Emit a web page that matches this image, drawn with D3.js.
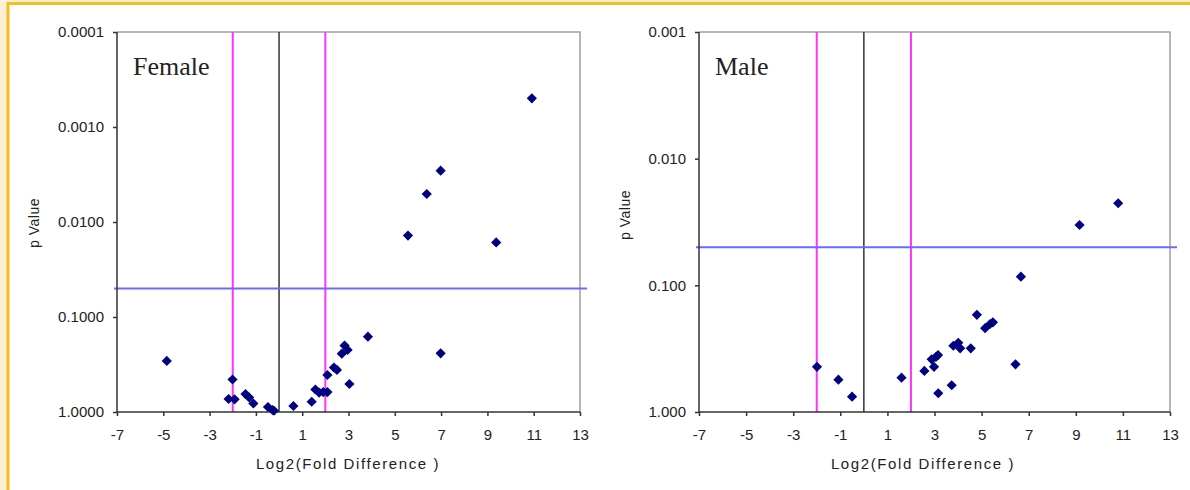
<!DOCTYPE html>
<html>
<head>
<meta charset="utf-8">
<script src="https://cdn.jsdelivr.net/npm/d3@7"></script>
<style>
    body { margin: 0; background: #ffffff; }
    svg { display: block; }
</style>
</head>
<body>
<svg id="chart" width="1190" height="490"></svg>
<script>
// fold differences (log2) and p values
const femaleFold = [-4.85, -2.01, -2.18, -1.92, -1.45, -1.29, -1.11, -0.48, -0.28, -0.22,
    0.62, 1.41, 1.57, 1.73, 1.91, 2.09, 2.09, 2.37, 2.50, 2.71,
    2.83, 2.96, 3.04, 3.84, 5.57, 6.38, 6.98, 6.98, 9.38, 10.92];
const femaleP = [0.29, 0.455, 0.73, 0.735, 0.647, 0.704, 0.814, 0.886, 0.953, 0.97,
    0.865, 0.78, 0.58, 0.624, 0.617, 0.617, 0.408, 0.34, 0.361, 0.243,
    0.20, 0.222, 0.507, 0.161, 0.0139, 0.00507, 0.00288, 0.241, 0.0164, 0.000499];

const maleFold = [-1.99, -1.08, -0.50, 1.60, 2.57, 2.88, 3.06, 2.98, 3.15, 3.16,
    3.73, 3.80, 4.01, 4.09, 4.54, 4.80, 5.15, 5.36, 5.48, 6.44,
    6.67, 9.16, 10.80];
const maleP = [0.44, 0.556, 0.757, 0.536, 0.474, 0.384, 0.368, 0.44, 0.355, 0.711,
    0.615, 0.30, 0.284, 0.314, 0.314, 0.171, 0.218, 0.202, 0.196, 0.42,
    0.0855, 0.0334, 0.0225];

const xTicks = [-7, -5, -3, -1, 1, 3, 5, 7, 9, 11, 13];
const femaleYTicks = [0.0001, 0.001, 0.01, 0.1, 1];
const maleYTicks = [0.001, 0.01, 0.1, 1];

const pCutoff = 0.05;       // blue line
const foldCutoffs = [-2, 2]; // magenta lines

const SANS = "Arial, 'Liberation Sans', sans-serif";

/**
 * One volcano panel drawn into its own group
 * @param cfg position, domain and labels of the panel
 */
var VolcanoPlot = function(cfg){
    this.cfg = cfg;
    this.g;

    this.draw = function(svg){
        let c = this.cfg;
        let x = d3.scaleLinear().domain([-7, 13]).range([c.left, c.right]);
        let y = d3.scaleLog().domain([c.yTicks[0], 1]).range([c.top, c.bottom]);

        this.g = svg.append("g");

        // top and right frame (grey)
        this.g.append("path")
            .attr("d", `M${c.left},${c.top}H${c.right}V${c.bottom}`)
            .style("fill", "none")
            .style("stroke", "#a0a0a0")
            .style("stroke-width", 1.5);

        // reference lines
        foldCutoffs.forEach(f => {
            this.g.append("line")
                .attr("x1", x(f)).attr("x2", x(f))
                .attr("y1", c.top).attr("y2", c.bottom)
                .style("stroke", "#ff33ff")
                .style("stroke-width", 2);
        });
        this.g.append("line")
            .attr("x1", x(0)).attr("x2", x(0))
            .attr("y1", c.top).attr("y2", c.bottom)
            .style("stroke", "#333")
            .style("stroke-width", 1.5);
        this.g.append("line")
            .attr("x1", c.left - 3).attr("x2", c.right + 7)
            .attr("y1", y(pCutoff)).attr("y2", y(pCutoff))
            .style("stroke", "#6a6aff")
            .style("stroke-width", 2);

        // axes (plain hyphen for negatives, like the original)
        let xAxis = d3.axisBottom(x).tickValues(xTicks).tickSize(4).tickPadding(13)
            .tickFormat(d => String(d));
        let yAxis = d3.axisLeft(y).tickValues(c.yTicks).tickSize(4).tickPadding(9)
            .tickFormat(d3.format(c.fmt));

        let gx = this.g.append("g")
            .attr("transform", `translate(0,${c.bottom})`)
            .call(xAxis);
        let gy = this.g.append("g")
            .attr("transform", `translate(${c.left},0)`)
            .call(yAxis);

        [gx, gy].forEach(a => {
            a.select(".domain").style("stroke", "#333").style("stroke-width", 1.5);
            a.selectAll(".tick line").style("stroke", "#333").style("stroke-width", 1.5);
            a.selectAll("text")
                .style("font-family", SANS)
                .style("font-size", "15px")
                .style("fill", "#222");
        });
        gx.select(".domain").attr("d", `M${c.left},0H${c.right}`);
        gy.select(".domain").attr("d", `M0,${c.top}V${c.bottom}`);

        // axis titles
        this.g.append("text")
            .attr("x", c.xTitleX)
            .attr("y", 469)
            .style("text-anchor", "middle")
            .style("font-family", SANS)
            .style("font-size", "15px")
            .style("letter-spacing", "1.6px")
            .style("fill", "#222")
            .text("Log2(Fold Difference )");

        this.g.append("text")
            .attr("transform", `translate(${c.yTitleX},${c.yTitleY}) rotate(-90)`)
            .style("text-anchor", "middle")
            .style("dominant-baseline", "central")
            .style("font-family", SANS)
            .style("font-size", "14px")
            .style("letter-spacing", "0.5px")
            .style("fill", "#222")
            .text("p Value");

        // panel title
        this.g.append("text")
            .attr("x", c.left + 16)
            .attr("y", 75)
            .style("font-family", "'Liberation Serif', 'Times New Roman', serif")
            .style("font-size", "26px")
            .style("fill", "#222")
            .text(c.title);

        // diamonds
        let pts = c.fold.map((f, i) => ({fold: f, p: c.p[i]}));
        let diamond = d3.symbol().type(d3.symbolSquare).size(52);
        this.g.selectAll("path.point")
            .data(pts)
            .enter()
            .append("path")
            .attr("class", "point")
            .attr("d", diamond)
            .attr("transform", d => `translate(${x(d.fold)},${y(d.p)}) rotate(45)`)
            .style("fill", "#000080");
    };
};

let svg = d3.select("#chart");

// page frame: cream strip on the left, yellow rule top and left
svg.append("rect").attr("x", 0).attr("y", 0).attr("width", 8).attr("height", 490)
    .style("fill", "#fcefd4");
svg.append("rect").attr("x", 0).attr("y", 0).attr("width", 1190).attr("height", 2)
    .style("fill", "#fcefd4");
svg.append("line").attr("x1", 8).attr("x2", 1190).attr("y1", 3.5).attr("y2", 3.5)
    .style("stroke", "#f4be1c").style("stroke-width", 3);
svg.append("line").attr("x1", 8).attr("x2", 8).attr("y1", 2).attr("y2", 490)
    .style("stroke", "#f4be1c").style("stroke-width", 3);

new VolcanoPlot({
    left: 117, right: 580, top: 32, bottom: 412,
    yTicks: femaleYTicks, fmt: ".4f",
    fold: femaleFold, p: femaleP,
    title: "Female",
    xTitleX: 348, yTitleX: 34, yTitleY: 223
}).draw(svg);

new VolcanoPlot({
    left: 699, right: 1170, top: 32, bottom: 412,
    yTicks: maleYTicks, fmt: ".3f",
    fold: maleFold, p: maleP,
    title: "Male",
    xTitleX: 923, yTitleX: 625, yTitleY: 215
}).draw(svg);
</script>
</body>
</html>
